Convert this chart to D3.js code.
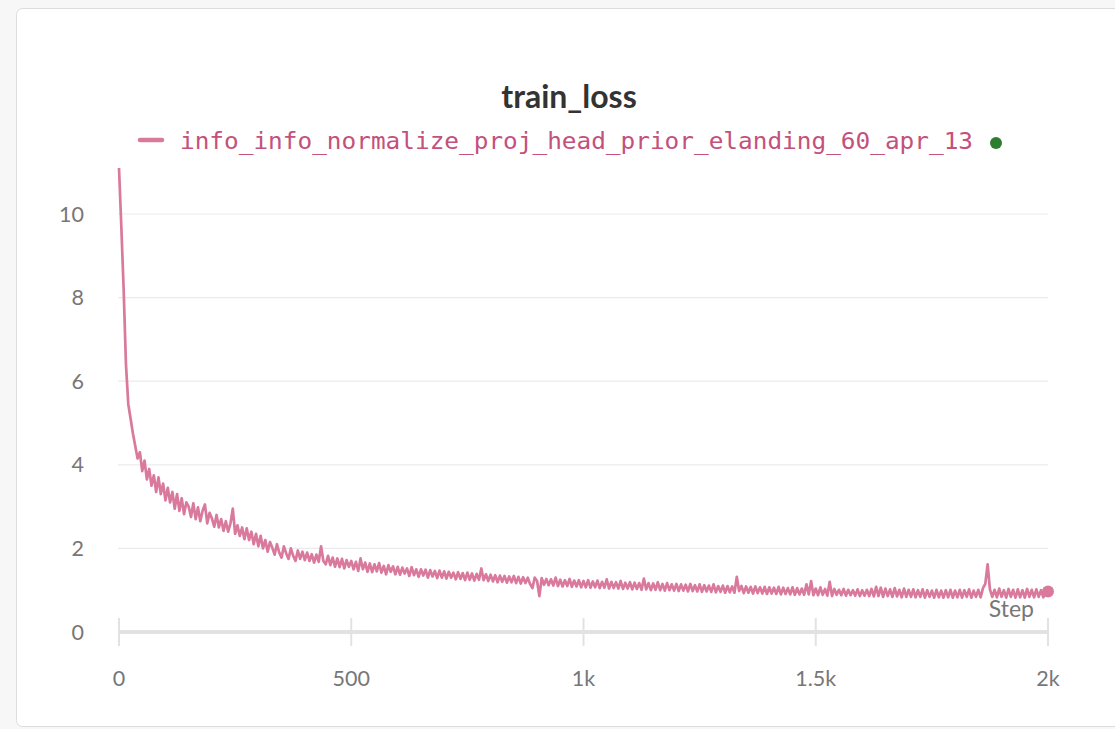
<!DOCTYPE html>
<html><head><meta charset="utf-8">
<script src="https://cdn.jsdelivr.net/npm/d3@7"></script>
<style>html,body{margin:0;padding:0;background:#f7f7f7;overflow:hidden}</style>
</head><body>
<svg id="c" width="1115" height="729"></svg>
<script>
const title = "train_loss";
const seriesName = "info_info_normalize_proj_head_prior_elanding_60_apr_13";
const yTicks = [0, 2, 4, 6, 8, 10];
const xTicks = [0, 500, 1000, 1500, 2000];
const xTickLabels = ["0", "500", "1k", "1.5k", "2k"];
const stepSize = 5; // logged every 5 steps, from step 0 to 2000
const loss = [
 11.1,9.7,8.2,6.4,5.45,5.1,4.75,4.45,4.15,4.3,3.85,4.1,3.65,3.9,3.5,3.75,3.35,3.7,3.3,3.55,
 3.15,3.45,3.1,3.35,2.95,3.3,2.9,3.2,2.82,3.1,3.0,2.75,3.08,2.7,2.98,2.65,2.9,3.05,2.6,2.85,
 2.72,2.52,2.8,2.5,2.7,2.42,2.65,2.4,2.6,2.95,2.35,2.55,2.3,2.5,2.22,2.48,2.2,2.4,2.1,2.35,
 2.05,2.3,2.0,2.2,1.92,2.15,2.02,1.85,2.1,1.9,1.78,2.05,1.88,1.75,2.0,1.82,1.7,1.95,1.75,1.92,
 1.72,1.9,1.7,1.86,1.66,1.85,1.68,2.05,1.7,1.62,1.82,1.6,1.78,1.56,1.76,1.55,1.75,1.52,1.72,1.56,
 1.7,1.5,1.68,1.46,1.76,1.5,1.66,1.44,1.64,1.43,1.62,1.45,1.65,1.42,1.58,1.38,1.6,1.44,1.57,1.38,
 1.56,1.37,1.54,1.4,1.52,1.34,1.55,1.36,1.5,1.32,1.5,1.35,1.49,1.3,1.48,1.33,1.46,1.29,1.47,1.3,
 1.45,1.28,1.44,1.3,1.42,1.26,1.43,1.27,1.41,1.24,1.42,1.25,1.4,1.23,1.39,1.25,1.52,1.24,1.38,1.22,
 1.37,1.21,1.36,1.19,1.35,1.2,1.34,1.18,1.33,1.19,1.34,1.17,1.32,1.16,1.31,1.17,1.3,1.15,1.05,1.3,
 1.22,0.86,1.29,1.13,1.27,1.12,1.26,1.11,1.3,1.1,1.25,1.09,1.24,1.1,1.27,1.08,1.23,1.09,1.24,1.07,
 1.22,1.07,1.24,1.06,1.21,1.07,1.23,1.05,1.2,1.06,1.26,1.04,1.2,1.05,1.19,1.04,1.22,1.03,1.18,1.04,
 1.19,1.02,1.18,1.03,1.17,1.01,1.28,1.02,1.17,1.0,1.16,1.01,1.19,1.0,1.15,0.99,1.17,1.0,1.14,0.99,
 1.15,0.98,1.14,0.99,1.13,0.97,1.15,0.98,1.12,0.97,1.14,0.96,1.12,0.97,1.11,0.96,1.14,0.95,1.1,0.96,
 1.11,0.94,1.1,0.95,1.09,0.94,1.32,0.98,1.1,0.93,1.09,0.94,1.08,0.92,1.09,0.93,1.07,0.92,1.08,0.91,
 1.07,0.92,1.06,0.91,1.08,0.9,1.06,0.91,1.05,0.9,1.07,0.89,1.05,0.9,1.04,0.89,1.14,0.9,1.22,0.88,
 1.04,0.88,1.07,0.89,1.03,0.87,1.2,0.86,1.03,0.89,1.01,0.88,1.03,0.87,1.01,0.88,1.0,0.87,1.02,0.86,
 1.0,0.87,1.01,0.86,1.03,0.85,1.08,0.86,1.06,0.84,1.04,0.86,1.02,0.84,1.05,0.85,1.01,0.83,1.04,0.84,
 1.01,0.84,1.02,0.83,1.0,0.84,1.02,0.82,1.0,0.84,0.99,0.82,1.01,0.83,0.99,0.82,1.0,0.83,1.01,0.82,
 0.99,0.83,1.01,0.82,1.0,0.84,1.02,0.82,0.99,0.84,1.01,0.83,1.05,1.15,1.62,1.02,0.84,1.01,0.83,1.04,
 0.84,1.0,0.82,1.03,0.84,1.01,0.82,1.02,0.83,1.0,0.82,1.03,0.84,1.01,0.83,1.02,0.84,1.0,0.83,0.99,
 0.97];

const lineColor = "#d9799c";
const svg = d3.select("#c");
const font = "Lato, 'Open Sans', sans-serif";

svg.append("rect").attr("x", 16.5).attr("y", 8.5).attr("width", 1120).attr("height", 718)
  .attr("rx", 6).attr("fill", "#fff").attr("stroke", "#dcdcdc");

const x = d3.scaleLinear().domain([0, 2000]).range([119, 1048]);
const y = d3.scaleLinear().domain([0, 10]).range([632, 214]);

// gridlines
svg.append("g").selectAll("line").data(yTicks.filter(d => d > 0)).join("line")
  .attr("x1", 118).attr("x2", 1048).attr("y1", d => y(d)).attr("y2", d => y(d))
  .attr("stroke", "#ebebeb").attr("stroke-width", 1.2);

// y labels
svg.append("g").selectAll("text").data(yTicks).join("text")
  .attr("x", 84).attr("y", d => y(d) + 7.5).attr("text-anchor", "end")
  .attr("font-family", font).attr("font-size", 21.5).attr("fill", "#777").text(d => d);

// x axis
const xAxis = svg.append("g");
xAxis.append("line").attr("x1", x(0)).attr("x2", x(2000)).attr("y1", 632).attr("y2", 632)
  .attr("stroke", "#e2e2e2").attr("stroke-width", 4);
xAxis.selectAll("line.t").data(xTicks).join("line").attr("class", "t")
  .attr("x1", d => x(d)).attr("x2", d => x(d)).attr("y1", 618).attr("y2", 646)
  .attr("stroke", "#e2e2e2").attr("stroke-width", 2);
xAxis.selectAll("text").data(xTicks).join("text")
  .attr("x", d => x(d)).attr("y", 686).attr("text-anchor", "middle")
  .attr("font-family", font).attr("font-size", 21.5).attr("fill", "#777")
  .text((d, i) => xTickLabels[i]);

svg.append("text").attr("x", 1034).attr("y", 617).attr("text-anchor", "end")
  .attr("font-family", font).attr("font-size", 23).attr("fill", "#777").text("Step");

// line
const data = loss.map((v, i) => ({s: i * stepSize, v}));
svg.append("path").datum(data)
  .attr("d", d3.line().x(d => x(d.s)).y(d => y(d.v)))
  .attr("fill", "none").attr("stroke", lineColor).attr("stroke-width", 2.7)
  .attr("stroke-linejoin", "round");
const last = data[data.length - 1];
svg.append("circle").attr("cx", x(last.s)).attr("cy", y(last.v)).attr("r", 6).attr("fill", lineColor);

// title
svg.append("text").attr("x", 569).attr("y", 108).attr("text-anchor", "middle")
  .attr("font-family", font).attr("font-weight", "bold").attr("font-size", 32).attr("fill", "#333")
  .text(title);

// legend
svg.append("line").attr("x1", 140).attr("x2", 162).attr("y1", 140).attr("y2", 140)
  .attr("stroke", lineColor).attr("stroke-width", 4.5).attr("stroke-linecap", "round");
svg.append("text").attr("x", 180).attr("y", 149)
  .attr("font-family", "'DejaVu Sans Mono', monospace").attr("font-size", 23)
  .attr("textLength", 793).attr("lengthAdjust", "spacingAndGlyphs")
  .attr("fill", "#c4507c").text(seriesName);
svg.append("circle").attr("cx", 996).attr("cy", 143).attr("r", 6).attr("fill", "#2f7d2f");
</script>
</body></html>
